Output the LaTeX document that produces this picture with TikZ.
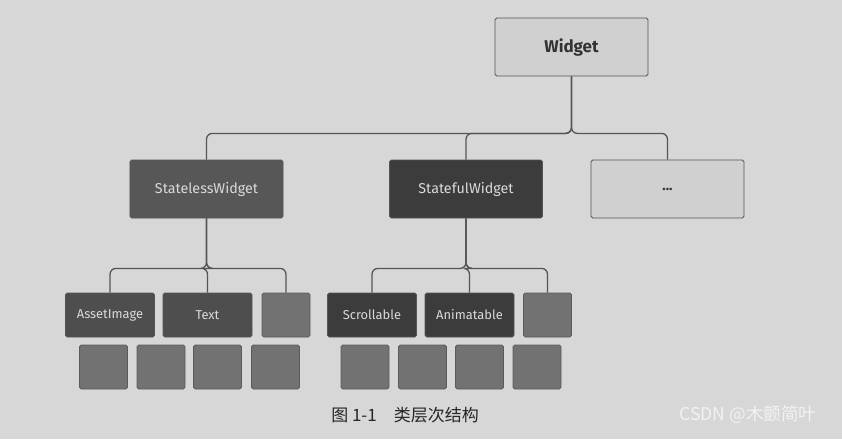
\documentclass[tikz,border=0pt]{standalone}
\usepackage{fontspec}
\setmainfont{Fira Sans}
\newfontfamily\cjk{Noto Sans CJK SC}
\definecolor{paper}{HTML}{D7D7D7}
\definecolor{edgegray}{HTML}{555555}
\definecolor{lightfill}{HTML}{D0D0D0}
\definecolor{midfill}{HTML}{575757}
\definecolor{darkfill}{HTML}{3C3C3C}
\definecolor{leaffill}{HTML}{727272}
\definecolor{labelgray}{HTML}{DADADA}
\begin{document}
\begin{tikzpicture}[x=0.03cm,y=-0.03cm,
  box/.style={draw=edgegray,line width=0.7pt,rounded corners=1.5pt,inner sep=0pt,
    text=labelgray,font=\fontsize{12.2}{14}\selectfont},
  wide/.style={box,minimum width=4.59cm,minimum height=1.74cm},
  narrow/.style={box,minimum width=2.67cm,minimum height=1.32cm,font=\fontsize{11}{13}\selectfont},
  leaf/.style={box,fill=leaffill,draw=leaffill!80!black,minimum width=1.44cm,minimum height=1.32cm},
  link/.style={draw=edgegray,line width=1.1pt,rounded corners=5pt}]
  % page
  \fill[paper] (0,0) rectangle (842,439);
  % top level
  \node[wide,fill=lightfill,text=black!80,font=\bfseries\fontsize{14.5}{16}\selectfont] (widget) at (571.5,47) {Widget};
  \node[wide,fill=midfill] (stateless) at (206.5,189) {StatelessWidget};
  \node[wide,fill=darkfill] (stateful) at (466,189) {StatefulWidget};
  \node[wide,fill=lightfill,text=black!80,font=\bfseries\fontsize{12}{14}\selectfont] (more) at (667.5,189) {...};
  % second level
  \node[narrow,fill=midfill!90!black] (asset) at (110,315) {AssetImage};
  \node[narrow,fill=midfill!90!black] (text) at (207.5,315) {Text};
  \node[leaf] (lessmore) at (286,315) {};
  \node[narrow,fill=darkfill] (scroll) at (372,315) {Scrollable};
  \node[narrow,fill=darkfill] (anim) at (469.5,315) {Animatable};
  \node[leaf] (fulmore) at (547.5,315) {};
  % bottom row
  \foreach \x [count=\i] in {103.5,161,217.5,275.5,365,422.5,479.5,537}
    \node[leaf] (leaf\i) at (\x,367) {};
  % connectors
  \foreach \child in {stateless,stateful,more}
    \draw[link] (widget.south) -- ++(0,57) -| (\child.north);
  \foreach \child in {asset,text,lessmore}
    \draw[link] (stateless.south) -- ++(0,50) -| (\child.north);
  \foreach \child in {scroll,anim,fulmore}
    \draw[link] (stateful.south) -- ++(0,50) -| (\child.north);
  % caption
  \node[font=\cjk\fontsize{14.5}{16}\selectfont,text=black!85] (caption) at (405,415) {图 1-1\hspace{1em}类层次结构};
  \node[font=\cjk\fontsize{15}{17}\selectfont,text=white!95!black] (mark) at (748,415) {CSDN @木颤简叶};
\end{tikzpicture}
\end{document}
